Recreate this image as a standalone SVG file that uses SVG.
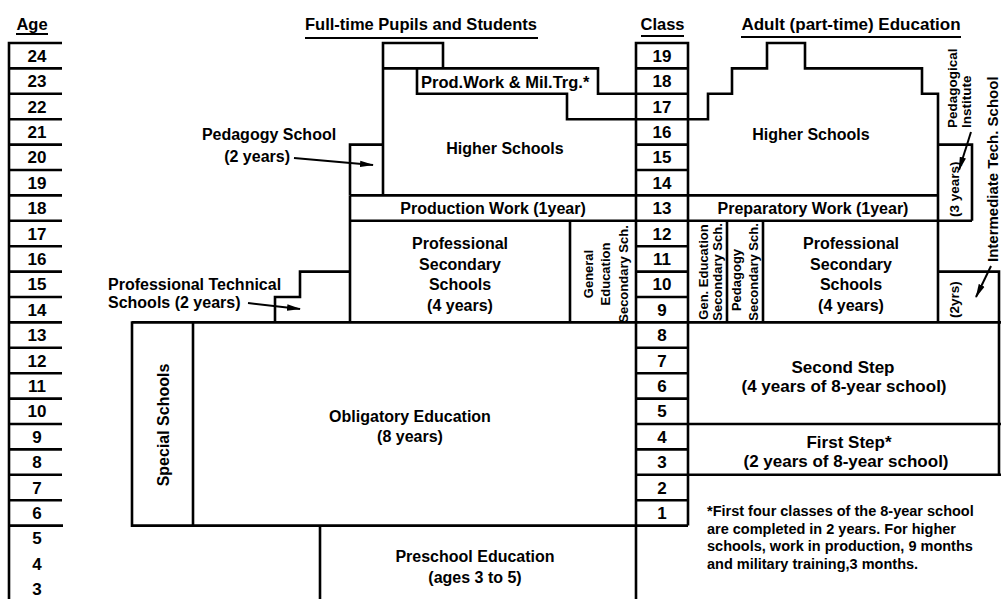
<svg xmlns="http://www.w3.org/2000/svg" width="1001" height="599" viewBox="0 0 1001 599">
<defs>
<style>
.ln{fill:none;stroke:#000;stroke-width:2.6;stroke-linejoin:miter}
.t{font-family:"Liberation Sans",Arial,sans-serif;font-weight:bold;fill:#000}
.lbl{font-size:16px;text-anchor:middle}
.num{font-size:17px;text-anchor:middle}
.ttl{font-size:16.5px;text-anchor:middle}
.sm{font-size:13px;text-anchor:middle}
.ss{font-size:13.5px}
.fn{font-size:14.5px}
.ul{stroke:#000;stroke-width:2}
.ar{fill:none;stroke:#000;stroke-width:2}
</style>
<marker id="ah" markerUnits="userSpaceOnUse" markerWidth="14" markerHeight="8" refX="13" refY="4" orient="auto"><path d="M0,0.8 L14,4 L0,7.2 z" fill="#000"/></marker>
</defs>
<rect width="1001" height="599" fill="#fff"/>

<g id="titles" class="t">
<text class="ttl" x="32" y="30">Age</text>
<line class="ul" x1="16" y1="34" x2="48" y2="34"/>
<text class="ttl" x="421" y="30">Full-time Pupils and Students</text>
<line class="ul" x1="305" y1="38" x2="538" y2="38"/>
<text class="ttl" x="662.5" y="30">Class</text>
<line class="ul" x1="641" y1="36" x2="684" y2="36"/>
<text class="ttl" x="851" y="30" style="font-size:17px">Adult (part-time) Education</text>
<line class="ul" x1="741" y1="37" x2="961" y2="37"/>
</g>

<g id="age-column">
<path class="ln" d="M9,41.8 V599 M9,43 H62 M9,68.4 H62 M9,93.8 H62 M9,119.2 H62 M9,144.6 H62 M9,170 H62 M9,195.4 H62 M9,220.8 H62 M9,246.2 H62 M9,271.6 H62 M9,297 H62 M9,322.4 H62 M9,347.8 H62 M9,373.2 H62 M9,398.6 H62 M9,424 H62 M9,449.4 H62 M9,474.8 H62 M9,500.2 H62 M9,525.6 H63"/>
<g class="t num">
<text x="37" y="61.7">24</text><text x="37" y="87.1">23</text><text x="37" y="112.5">22</text><text x="37" y="137.9">21</text><text x="37" y="163.3">20</text><text x="37" y="188.7">19</text><text x="37" y="214.1">18</text><text x="37" y="239.5">17</text><text x="37" y="264.9">16</text><text x="37" y="290.3">15</text><text x="37" y="315.7">14</text><text x="37" y="341.1">13</text><text x="37" y="366.5">12</text><text x="37" y="391.9">11</text><text x="37" y="417.3">10</text><text x="37" y="442.7">9</text><text x="37" y="468.1">8</text><text x="37" y="493.5">7</text><text x="37" y="518.9">6</text><text x="37" y="544.3">5</text><text x="37" y="569.7">4</text><text x="37" y="595.1">3</text>
</g>
</g>

<g id="class-column">
<path class="ln" d="M636,41.8 V599 M688,41.8 V525.6 M636,43 H688 M636,68.4 H688 M636,93.8 H688 M636,119.2 H688 M636,144.6 H688 M636,170 H688 M636,195.4 H688 M636,220.8 H688 M636,246.2 H688 M636,271.6 H688 M636,297 H688 M636,322.4 H688 M636,347.8 H688 M636,373.2 H688 M636,398.6 H688 M636,424 H688 M636,449.4 H688 M636,474.8 H688 M636,500.2 H688 M636,525.6 H688"/>
<g class="t num">
<text x="662" y="61.7">19</text><text x="662" y="87.1">18</text><text x="662" y="112.5">17</text><text x="662" y="137.9">16</text><text x="662" y="163.3">15</text><text x="662" y="188.7">14</text><text x="662" y="214.1">13</text><text x="662" y="239.5">12</text><text x="662" y="264.9">11</text><text x="662" y="290.3">10</text><text x="662" y="315.7">9</text><text x="662" y="341.1">8</text><text x="662" y="366.5">7</text><text x="662" y="391.9">6</text><text x="662" y="417.3">5</text><text x="662" y="442.7">4</text><text x="662" y="468.1">3</text><text x="662" y="493.5">2</text><text x="662" y="518.9">1</text>
</g>
</g>

<g id="higher-schools-left">
<path class="ln" d="M383,195.4 V43 H443 V68.4 H598 V93.8 H636 M383,68.4 H443 M417,68.4 V93.8 H567 V119.2 H636"/>
<text class="t lbl" x="505" y="154">Higher Schools</text>
</g>

<g id="prod-work-mil-trg">
<text class="t" x="421" y="88" style="font-size:16.5px">Prod.Work &amp; Mil.Trg.*</text>
</g>

<g id="pedagogy-school">
<path class="ln" d="M350,195.4 V144.6 H383"/>
<text class="t lbl" x="269" y="140">Pedagogy School</text>
<text class="t" x="290" y="162" style="font-size:16px;text-anchor:end">(2 years)</text>
</g>

<g id="production-work">
<path class="ln" d="M350,195.4 H636 M350,220.8 H636"/>
<text class="t lbl" x="493" y="214">Production Work (1year)</text>
</g>

<g id="professional-secondary-left">
<path class="ln" d="M350,195.4 V322.4 M570,220.8 V322.4"/>
<text class="t lbl" x="460" y="249">Professional</text>
<text class="t lbl" x="460" y="270">Secondary</text>
<text class="t lbl" x="460" y="290">Schools</text>
<text class="t lbl" x="460" y="311">(4 years)</text>
</g>

<g id="general-education-left" class="t sm">
<text transform="translate(593,274) rotate(-90)">General</text>
<text transform="translate(610,274) rotate(-90)">Education</text>
<text transform="translate(628,274) rotate(-90)">Secondary Sch.</text>
</g>

<g id="professional-technical">
<path class="ln" d="M275,322.4 V297 H300 V271.6 H350"/>
<text class="t" x="108" y="290" style="font-size:16px">Professional Technical</text>
<text class="t" x="108" y="308" style="font-size:16px">Schools (2 years)</text>
</g>

<g id="obligatory-education">
<path class="ln" d="M132,322.4 H636 M132,321.2 V525.6 H636"/>
<text class="t lbl" x="410" y="422">Obligatory Education</text>
<text class="t lbl" x="410" y="442">(8 years)</text>
</g>

<g id="special-schools">
<path class="ln" d="M193,322.4 V525.6"/>
<text class="t lbl" transform="translate(169,425) rotate(-90)">Special Schools</text>
</g>

<g id="preschool">
<path class="ln" d="M320,525.6 V599"/>
<text class="t lbl" x="475" y="562">Preschool Education</text>
<text class="t lbl" x="475" y="583">(ages 3 to 5)</text>
</g>

<g id="higher-schools-right">
<path class="ln" d="M688,119.2 H708 V93.8 H732 V68.4 H767 V43 H805 V68.4 H922 V93.8 H938 V322.4"/>
<text class="t lbl" x="811" y="140">Higher Schools</text>
</g>

<g id="preparatory-work">
<path class="ln" d="M688,195.4 H938 M688,220.8 H972"/>
<text class="t lbl" x="813" y="214">Preparatory Work (1year)</text>
</g>

<g id="pedagogical-institute">
<path class="ln" d="M938,144.6 H972 V220.8"/>
<text class="t ss" transform="translate(957,128) rotate(-90)">Pedagogical</text>
<text class="t ss" transform="translate(971,128) rotate(-90)">Institute</text>
<text class="t ss" transform="translate(959,217) rotate(-90)">(3 years)</text>
</g>

<g id="gen-education-right" class="t sm">
<path class="ln" d="M727,220.8 V322.4"/>
<text transform="translate(708,272) rotate(-90)">Gen. Education</text>
<text transform="translate(722,272) rotate(-90)">Secondary Sch.</text>
</g>

<g id="pedagogy-secondary-right" class="t sm">
<path class="ln" d="M763,220.8 V322.4"/>
<text transform="translate(741,280) rotate(-90)">Pedagogy</text>
<text transform="translate(758,272) rotate(-90)">Secondary Sch.</text>
</g>

<g id="professional-secondary-right">
<text class="t lbl" x="851" y="249">Professional</text>
<text class="t lbl" x="851" y="270">Secondary</text>
<text class="t lbl" x="851" y="290">Schools</text>
<text class="t lbl" x="851" y="311">(4 years)</text>
</g>

<g id="intermediate-tech">
<path class="ln" d="M938,271.6 H999 V474.8"/>
<text class="t" transform="translate(998,262) rotate(-90)" style="font-size:15px">Intermediate Tech. School</text>
<text class="t ss" transform="translate(959,318) rotate(-90)">(2yrs)</text>
</g>

<g id="second-step">
<path class="ln" d="M688,322.4 H1001 M688,424 H1001"/>
<text class="t lbl" x="843" y="373" style="font-size:17px">Second Step</text>
<text class="t lbl" x="844" y="392" style="font-size:17px">(4 years of 8-year school)</text>
</g>

<g id="first-step">
<path class="ln" d="M688,474.8 H1001"/>
<text class="t lbl" x="849" y="448" style="font-size:17px">First Step*</text>
<text class="t lbl" x="846" y="467" style="font-size:17px">(2 years of 8-year school)</text>
</g>

<g id="footnote" class="t fn">
<text x="707" y="516">*First four classes of the 8-year school</text>
<text x="707" y="533.5">are completed in 2 years. For higher</text>
<text x="707" y="551">schools, work in production, 9 months</text>
<text x="707" y="568.5">and military training,3 months.</text>
</g>

<g id="connectors">
<path class="ar" d="M294,158 L373,165" marker-end="url(#ah)"/>
<path class="ar" d="M248,303 L300,309" marker-end="url(#ah)"/>
<path class="ar" d="M971,132 L959,170" marker-end="url(#ah)"/>
<path class="ar" d="M991,266 L976,297" marker-end="url(#ah)"/>
</g>
</svg>
